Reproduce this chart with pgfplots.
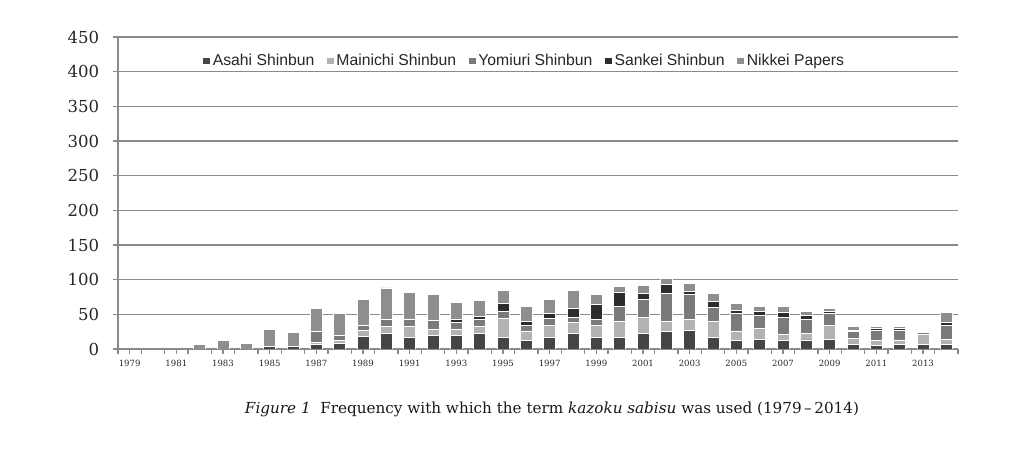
\documentclass[border=0pt]{standalone}
\usepackage{pgfplots}
\pgfplotsset{compat=1.18}
\usepackage{pgfplotstable}
\usepackage{fontspec}
\setmainfont{DejaVu Serif}
\newfontfamily\legendfont{Liberation Sans}
\definecolor{cAsahi}{HTML}{454545}
\definecolor{cMainichi}{HTML}{B2B2B2}
\definecolor{cYomiuri}{HTML}{7A7A7A}
\definecolor{cSankei}{HTML}{2C2C2C}
\definecolor{cNikkei}{HTML}{8E8E8E}
\definecolor{gridgray}{HTML}{8A8A8A}
\pgfplotstableread{
x year A M Y S N
0 1979 0 0 0 0 0
1 1980 0 0 0 0 0
2 1981 0 0 0 0 0
3 1982 0 0 0 0 7
4 1983 0 0 0 0 12
5 1984 0 0 0 0 8
6 1985 3 0 0 0 25
7 1986 4 0 0 0 20
8 1987 7 3 15 0 33
9 1988 8 4 8 0 31
10 1989 18 9 7 0 38
11 1990 22 10 10 0 46
12 1991 16 16 10 0 40
13 1992 19 9 13 0 38
14 1993 19 9 10 4 25
15 1994 22 10 10 5 23
16 1995 16 28 10 12 18
17 1996 12 14 8 5 22
18 1997 17 17 10 7 20
19 1998 23 15 8 13 25
20 1999 16 18 8 22 15
21 2000 17 23 22 19 9
22 2001 22 24 25 9 11
23 2002 25 15 40 13 9
24 2003 27 15 36 5 12
25 2004 16 24 20 9 11
26 2005 12 14 25 5 10
27 2006 14 15 20 5 7
28 2007 12 9 24 7 10
29 2008 13 9 21 5 6
30 2009 14 20 17 3 5
31 2010 7 8 10 2 5
32 2011 5 7 15 2 4
33 2012 7 6 14 2 3
34 2013 6 15 3 1 2
35 2014 6 8 20 4 14
}\datatable
\begin{document}
\begin{tikzpicture}
\path[use as bounding box] (0,0) rectangle (768pt,339.75pt);
\begin{axis}[
  at={(88.5pt,78pt)}, anchor=south west,
  scale only axis, width=630pt, height=234pt,
  ybar stacked, bar width=9pt,
  xmin=-0.5, xmax=35.5, ymin=0, ymax=450,
  enlargelimits=false,
  axis x line*=bottom, axis y line*=left,
  axis line style={-, draw=gridgray, line width=1.1pt},
  ytick={0,50,...,450},
  ymajorgrids, grid style={draw=gridgray, line width=1.1pt},
  major tick style={draw=gridgray, line width=0.9pt},
  tick align=outside,
  major tick length=3.6pt,
  xtick={-0.5,0.5,...,35.5},
  xticklabels={},
  extra x ticks={0,2,...,34},
  extra x tick labels={1979,1981,1983,1985,1987,1989,1991,1993,1995,1997,1999,2001,2003,2005,2007,2009,2011,2013},
  extra x tick style={tick style={draw=none}, xticklabel style={yshift=-1pt}},
  xticklabel style={font=\fontsize{6.4}{7}\selectfont, text=black!85},
  yticklabel style={font=\fontsize{12.4}{14}\selectfont, text=black!85, xshift=-7pt},
  /pgf/number format/assume math mode=true,
  legend columns=-1,
  legend style={at={(0.4845,0.923)}, anchor=center, draw=none, fill=none,
    font=\legendfont\fontsize{11.8}{13}\selectfont, text=black!85,
    /tikz/every even column/.append style={column sep=7.5pt},
    inner sep=0pt},
]
\addplot[fill=cAsahi, draw=white, line width=0.7pt, legend image code/.code={\fill[cAsahi] (0pt,-2.2pt) rectangle (4.4pt,2.2pt);}] table[x=x,y=A] {\datatable};
\addplot[fill=cMainichi, draw=white, line width=0.7pt, legend image code/.code={\fill[cMainichi] (0pt,-2.2pt) rectangle (4.4pt,2.2pt);}] table[x=x,y=M] {\datatable};
\addplot[fill=cYomiuri, draw=white, line width=0.7pt, legend image code/.code={\fill[cYomiuri] (0pt,-2.2pt) rectangle (4.4pt,2.2pt);}] table[x=x,y=Y] {\datatable};
\addplot[fill=cSankei, draw=white, line width=0.7pt, legend image code/.code={\fill[cSankei] (0pt,-2.2pt) rectangle (4.4pt,2.2pt);}] table[x=x,y=S] {\datatable};
\addplot[fill=cNikkei, draw=white, line width=0.7pt, legend image code/.code={\fill[cNikkei] (0pt,-2.2pt) rectangle (4.4pt,2.2pt);}] table[x=x,y=N] {\datatable};
\legend{Asahi Shinbun,Mainichi Shinbun,Yomiuri Shinbun,Sankei Shinbun,Nikkei Papers}
\end{axis}
\node[font=\fontsize{11.4}{14}\selectfont, text=black!90] at (414pt,33pt) {\textit{Figure 1}\ \ Frequency with which the term \textit{kazoku sabisu} was used (1979\,--\,2014)};
\end{tikzpicture}
\end{document}
